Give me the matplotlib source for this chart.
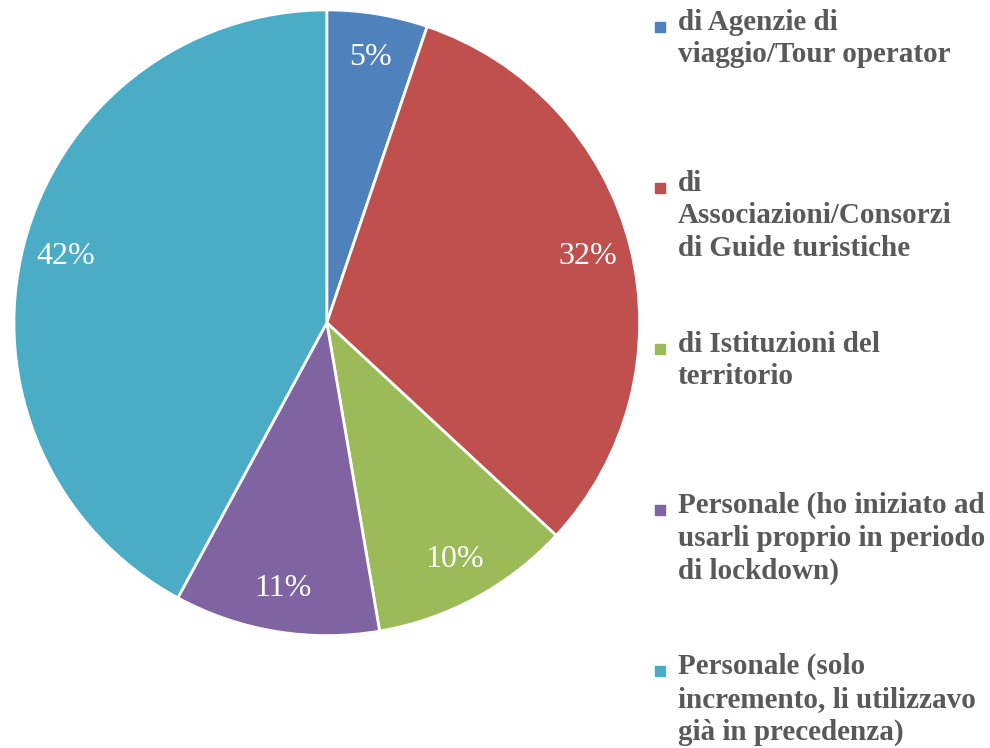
import matplotlib.pyplot as plt
from matplotlib.patches import Rectangle

# data
labels = [
    "di Agenzie di\nviaggio/Tour operator",
    "di\nAssociazioni/Consorzi\ndi Guide turistiche",
    "di Istituzioni del\nterritorio",
    "Personale (ho iniziato ad\nusarli proprio in periodo\ndi lockdown)",
    "Personale (solo\nincremento, li utilizzavo\ngià in precedenza)",
]
values = [5.2, 31.7, 10.4, 10.6, 42.1]
colors = ["#4F81BD", "#C0504D", "#9BBB59", "#8064A2", "#4BACC6"]

plt.rcParams["font.family"] = ["Liberation Serif", "DejaVu Serif"]

fig = plt.figure(figsize=(9.9, 7.48), dpi=100)
ax = fig.add_axes([0.0141, 0.150, 0.632, 0.837])

wedges, texts, autotexts = ax.pie(
    values,
    colors=colors,
    startangle=90,
    counterclock=False,
    autopct="%.0f%%",
    pctdistance=0.86,
    wedgeprops=dict(edgecolor="white", linewidth=2),
    textprops=dict(color="white", fontsize=23),
)
ax.set_xlim(-1.0, 1.0)
ax.set_ylim(-1.0, 1.0)
ax.set_aspect("equal")

# legend drawn by hand so the square sits beside the first line
text_color = "#595959"
y_top = 0.988
step = 161 / 748
for i, (lab, col) in enumerate(zip(labels, colors)):
    y = y_top - i * step
    fig.text(678 / 990, y, lab, ha="left", va="top", fontsize=21,
             fontweight="bold", color=text_color, linespacing=1.26)
    fig.add_artist(Rectangle((655 / 990, y - 23 / 748), 10 / 990, 10 / 748,
                             transform=fig.transFigure, color=col))

fig.savefig("out.png", dpi=100)
